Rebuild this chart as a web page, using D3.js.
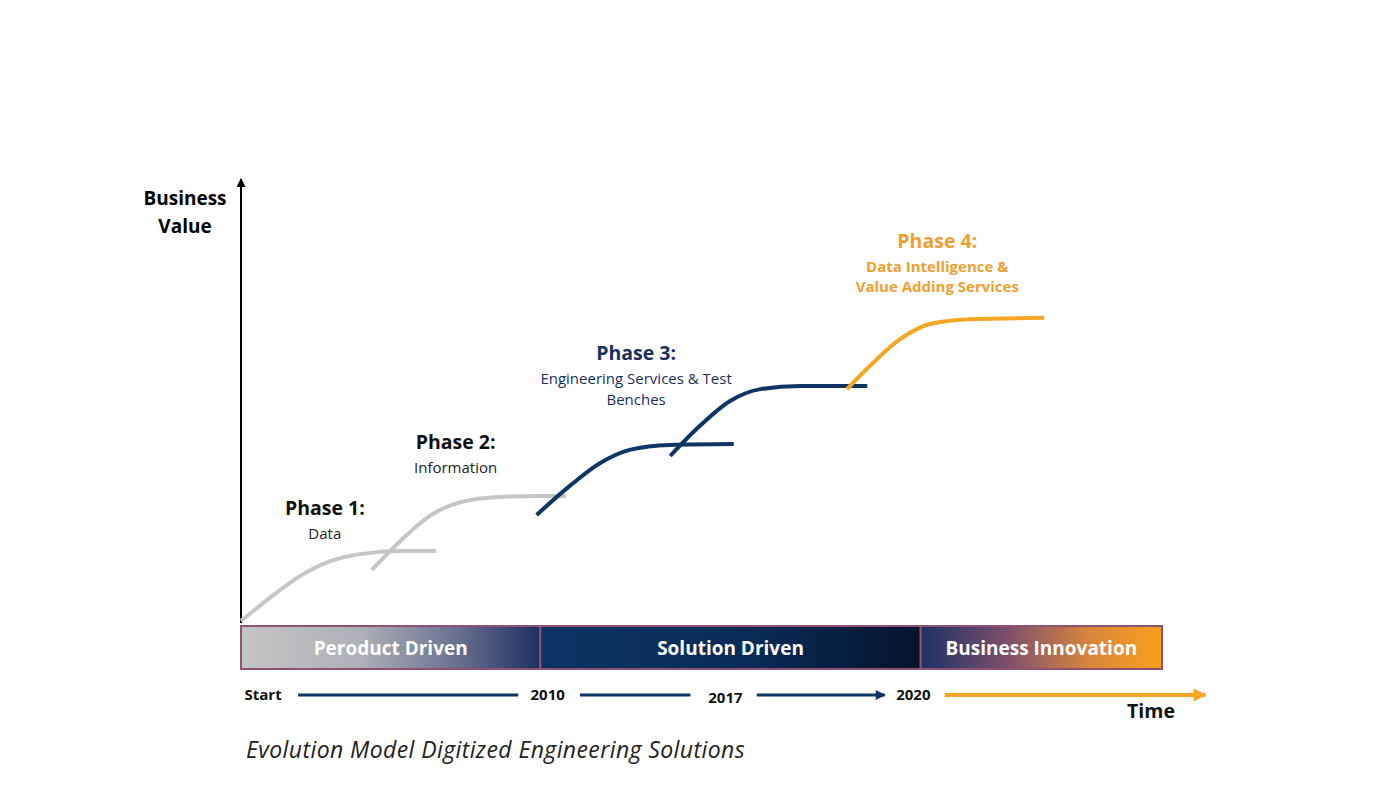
<!DOCTYPE html>
<html>
<head>
<meta charset="utf-8">
<script src="https://cdn.jsdelivr.net/npm/d3@7"></script>
<style>
  body { margin: 0; background: #fff; }
  svg { display: block; font-family: "Open Sans", "Noto Sans", sans-serif; }
</style>
</head>
<body>
<div id="chart"></div>
<script>
// ---- data (time units 0..100 along the band, value units 0..100 up the axis)
const phaseNames = ["Phase 1:", "Phase 2:", "Phase 3:", "Phase 4:"];
const phaseSubs = [["Data"], ["Information"], ["Engineering Services & Test", "Benches"], ["Data Intelligence &", "Value Adding Services"]];
const phaseLabelAt = [[9.1, 24.2], [23.3, 39.1], [42.9, 59.3], [75.6, 84.8]];

// s-curves, one per growth step
const curve1 = [[0, 0], [3.1, 5.2], [6.4, 10.2], [9.7, 13.6], [12.9, 15.2], [17.3, 15.9], [21.2, 15.9]];
const curve2 = [[14.2, 11.6], [17.3, 18.2], [20.5, 23.9], [23.8, 27.0], [28.1, 28.2], [32.5, 28.4], [35.3, 28.4]];
const curve3 = [[32.1, 24.1], [35.7, 30.7], [39.0, 35.9], [42.2, 38.9], [46.6, 40.0], [53.5, 40.2]];
const curve4 = [[46.6, 37.5], [49.8, 44.3], [53.1, 50.0], [56.4, 52.7], [60.7, 53.4], [68.0, 53.4]];
const curve5 = [[65.8, 52.7], [68.3, 58.0], [71.6, 64.1], [74.8, 67.5], [79.2, 68.6], [87.2, 68.9]];
const curves = [curve1, curve2, curve3, curve4, curve5];
const curveGroup = ["grey", "grey", "navy", "navy", "orange"];

const bandNames = ["Peroduct Driven", "Solution Driven", "Business Innovation"];
const bandStart = [0, 32.5, 73.8];
const bandEnd = [32.5, 73.8, 100];

const tickLabels = ["Start", "2010", "2017", "2020"];
const tickAt = [2.4, 33.3, 52.6, 73.0];
const timeSegStart = [6.2, 36.8, 56.0, 76.4];
const timeSegEnd = [30.1, 48.8, 69.9, 104.7];
const timeSegGroup = ["navy", "navy", "navyArrow", "orange"];

// ---- layout
const width = 1400, height = 788;
const colors = { grey: "#c6c6c6", navy: "#0f3565", orange: "#f5a623" };

const x = d3.scaleLinear().domain([0, 100]).range([241, 1162]);
const y = d3.scaleLinear().domain([0, 100]).range([621, 181]);

const svg = d3.select("#chart").append("svg")
    .attr("width", width)
    .attr("height", height);

const defs = svg.append("defs");

function gradient(id, stops) {
  const g = defs.append("linearGradient").attr("id", id)
      .attr("x1", "0%").attr("x2", "100%").attr("y1", "0%").attr("y2", "0%");
  stops.forEach(s => g.append("stop").attr("offset", s[0]).attr("stop-color", s[1]));
}
gradient("g0", [["0%", "#c4c4c4"], ["40%", "#afb0b7"], ["72%", "#6a7090"], ["100%", "#1d3060"]]);
gradient("g1", [["0%", "#0d3465"], ["55%", "#082b57"], ["100%", "#06132c"]]);
gradient("g2", [["0%", "#1c3166"], ["35%", "#7a4e6c"], ["70%", "#d9863c"], ["100%", "#f8a01a"]]);

function marker(id, color, w, h) {
  defs.append("marker").attr("id", id)
      .attr("viewBox", "0 0 10 10").attr("refX", 9).attr("refY", 5)
      .attr("markerUnits", "userSpaceOnUse")
      .attr("markerWidth", w).attr("markerHeight", h)
      .attr("orient", "auto")
    .append("path").attr("d", "M0,0L10,5L0,10z").attr("fill", color);
}
marker("arrBlack", "#000", 10, 9);
marker("arrNavy", colors.navy, 12, 10);
marker("arrOrange", colors.orange, 16, 13);

// y axis (Business Value)
svg.append("line")
    .attr("x1", x(0)).attr("x2", x(0))
    .attr("y1", y(0) + 2).attr("y2", y(100) - 2)
    .attr("stroke", "#000").attr("stroke-width", 2)
    .attr("marker-end", "url(#arrBlack)");

svg.append("text").attr("x", 185).attr("y", 205)
    .attr("text-anchor", "middle").attr("font-size", 19).attr("font-weight", 700)
    .text("Business");
svg.append("text").attr("x", 185).attr("y", 233)
    .attr("text-anchor", "middle").attr("font-size", 19).attr("font-weight", 700)
    .text("Value");

// bands
const bandTop = 626, bandH = 43;
const band = svg.append("g").selectAll("g")
  .data(bandNames)
  .join("g");
band.append("rect")
    .attr("x", (d, i) => x(bandStart[i]))
    .attr("y", bandTop)
    .attr("width", (d, i) => x(bandEnd[i]) - x(bandStart[i]))
    .attr("height", bandH)
    .attr("fill", (d, i) => "url(#g" + i + ")")
    .attr("stroke", "#8e5274").attr("stroke-width", 2);
band.append("text")
    .attr("x", (d, i) => (x(bandStart[i]) + x(bandEnd[i])) / 2)
    .attr("y", bandTop + bandH / 2 + 7)
    .attr("text-anchor", "middle")
    .attr("fill", "#fff").attr("font-size", 19).attr("font-weight", 700)
    .text(d => d);

// curves
const line = d3.line()
    .x(d => x(d[0]))
    .y(d => y(d[1]))
    .curve(d3.curveMonotoneX);

svg.append("g").selectAll("path")
  .data(curves)
  .join("path")
    .attr("d", line)
    .attr("fill", "none")
    .attr("stroke", (d, i) => colors[curveGroup[i]])
    .attr("stroke-width", 4)
    .attr("stroke-linecap", "butt");

// phase labels
const titleColor = ["#111", "#111", "#1b2f5c", "#f0a030"];
const subColor = ["#222", "#222", "#1b2f5c", "#f0a030"];
const ph = svg.append("g").selectAll("g")
  .data(phaseNames)
  .join("g");
ph.append("text")
    .attr("x", (d, i) => x(phaseLabelAt[i][0]))
    .attr("y", (d, i) => y(phaseLabelAt[i][1]))
    .attr("text-anchor", "middle")
    .attr("font-size", 19.5).attr("font-weight", 700)
    .attr("fill", (d, i) => titleColor[i])
    .text(d => d);
ph.each(function(d, i) {
  d3.select(this).selectAll("text.sub")
    .data(phaseSubs[i])
    .join("text")
      .attr("class", "sub")
      .attr("x", x(phaseLabelAt[i][0]))
      .attr("y", (s, j) => y(phaseLabelAt[i][1]) + 24 + j * 20.5)
      .attr("text-anchor", "middle")
      .attr("font-size", 15)
      .attr("font-weight", i === 3 ? 700 : 400)
      .attr("fill", subColor[i])
      .text(s => s);
});

// timeline
const timeY = 695;
svg.append("g").selectAll("line")
  .data(timeSegStart)
  .join("line")
    .attr("x1", d => x(d))
    .attr("x2", (d, i) => x(timeSegEnd[i]))
    .attr("y1", timeY).attr("y2", timeY)
    .attr("stroke", (d, i) => timeSegGroup[i] === "orange" ? colors.orange : colors.navy)
    .attr("stroke-width", (d, i) => timeSegGroup[i] === "orange" ? 4 : 3)
    .attr("marker-end", (d, i) => timeSegGroup[i] === "navyArrow" ? "url(#arrNavy)"
        : timeSegGroup[i] === "orange" ? "url(#arrOrange)" : null);

svg.append("g").selectAll("text")
  .data(tickLabels)
  .join("text")
    .attr("x", (d, i) => x(tickAt[i]))
    .attr("y", (d, i) => i === 2 ? timeY + 8 : timeY + 5)
    .attr("text-anchor", "middle")
    .attr("font-size", 15).attr("font-weight", 700)
    .attr("fill", "#111")
    .text(d => d);

svg.append("text").attr("x", 1151).attr("y", 718)
    .attr("text-anchor", "middle").attr("font-size", 19.5).attr("font-weight", 700)
    .attr("fill", "#111")
    .text("Time");

// caption
svg.append("text").attr("x", 246).attr("y", 758)
    .attr("font-size", 23).attr("font-style", "italic")
    .attr("letter-spacing", 0.4)
    .attr("fill", "#222")
    .text("Evolution Model Digitized Engineering Solutions");
</script>
</body>
</html>
